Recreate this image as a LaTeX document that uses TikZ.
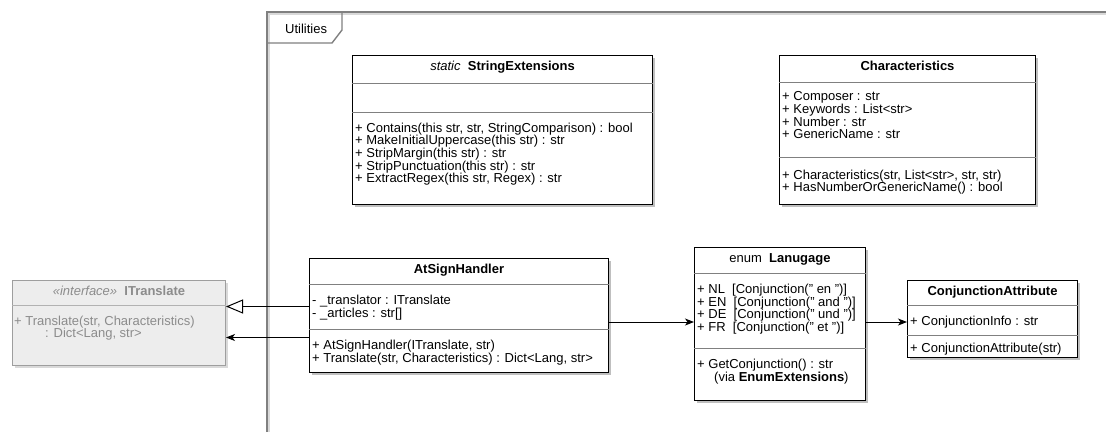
\documentclass[tikz,border=0pt]{standalone}
\usepackage{fontspec}
\setmainfont{Liberation Sans}
\usetikzlibrary{shadows,arrows.meta}
\newcommand\fs{\fontsize{13}{12.7}\selectfont}
\newcommand\qq{\symbol{34}}
\newcommand\ml[1]{\vtop{\lineskiplimit=-100pt\lineskip=0pt\baselineskip=12.7pt\halign{##\hfil\cr#1\crcr}}}
\tikzset{
  cls/.style={draw=black, line width=1pt, fill=white, inner sep=0, anchor=north west,
    drop shadow={shadow xshift=2.5pt, shadow yshift=-2.5pt, fill=black!25, opacity=1}},
  ifc/.style={draw=black!38, line width=1pt, fill=black!7, inner sep=0, anchor=north west,
    drop shadow={shadow xshift=2.5pt, shadow yshift=-2.5pt, fill=black!15, opacity=1}},
  sep/.style={draw=black!50, line width=0.9pt},
  isep/.style={draw=black!30, line width=0.9pt},
  txt/.style={inner sep=0, anchor=base west, font=\fs},
  hdr/.style={inner sep=0, anchor=base, font=\fs},
  gtxt/.style={text=black!45},
  gen/.style={draw, line width=1pt, -{Triangle[open, length=17pt, width=14pt]}},
  assoc/.style={draw, line width=1pt, -{Stealth[length=9pt, width=7pt, inset=2.5pt]}},
  frm/.style={draw=black!50, line width=1.4pt},
  frmsh/.style={draw=black!15, line width=1.4pt}
}
\begin{document}
\begin{tikzpicture}[x=1pt, y=-1pt]
\useasboundingbox (0,0) rectangle (1106,432);
% package frame
\draw[frmsh] (269,432) -- (269,14) -- (1106,14);
\draw[frm] (267,432) -- (267,12) -- (1106,12);
\draw[frm] (267,43) -- (332,43) -- (342,30) -- (342,12);
\node[txt] (util) at (285,33.5) {Utilities};

% ITranslate
\node[ifc, minimum width=213pt, minimum height=85pt] (itr) at (12,280) {};
\node[hdr, gtxt] (itr-h) at (itr.north |- 0,295) {\textit{«interface»}\ \ \textbf{ITranslate}};
\draw[isep] (itr.west |- 0,305) -- (itr.east |- 0,305);
\node[txt, gtxt] (itr-m) at (14,325) {\ml{+ Translate(str, Characteristics)\cr \hskip31pt: Dict<Lang, str>}};

% StringExtensions
\node[cls, minimum width=300pt, minimum height=149pt] (se) at (352,55) {};
\node[hdr] (se-h) at (se.north |- 0,70.7) {\textit{static}\ \ \textbf{StringExtensions}};
\draw[sep] (se.west |- 0,83) -- (se.east |- 0,83);
\draw[sep] (se.west |- 0,112) -- (se.east |- 0,112);
\node[txt] (se-m) at (355,132) {\ml{+ Contains(this str, str, StringComparison) : bool\cr
+ MakeInitialUppercase(this str) : str\cr
+ StripMargin(this str) : str\cr
+ StripPunctuation(this str) : str\cr
+ ExtractRegex(this str, Regex) : str}};

% Characteristics
\node[cls, minimum width=256pt, minimum height=149pt] (ch) at (779,55) {};
\node[hdr] (ch-h) at (ch.north |- 0,70.7) {\textbf{Characteristics}};
\draw[sep] (ch.west |- 0,82) -- (ch.east |- 0,82);
\node[txt] (ch-a) at (782,100.7) {\ml{+ Composer : str\cr
+ Keywords : List<str>\cr
+ Number : str\cr
+ GenericName : str}};
\draw[sep] (ch.west |- 0,157) -- (ch.east |- 0,157);
\node[txt] (ch-m) at (782,179) {\ml{+ Characteristics(str, List<str>, str, str)\cr
+ HasNumberOrGenericName() : bool}};

% AtSignHandler
\node[cls, minimum width=299pt, minimum height=114pt] (ash) at (309,258) {};
\node[hdr] (ash-h) at (ash.north |- 0,273.3) {\textbf{AtSignHandler}};
\draw[sep] (ash.west |- 0,284) -- (ash.east |- 0,284);
\node[txt] (ash-a) at (312,304.3) {\ml{- \_translator : ITranslate\cr
- \_articles : str[]}};
\draw[sep] (ash.west |- 0,329) -- (ash.east |- 0,329);
\node[txt] (ash-m) at (312,349.5) {\ml{+ AtSignHandler(ITranslate, str)\cr
+ Translate(str, Characteristics) : Dict<Lang, str>}};

% Lanugage
\node[cls, minimum width=171pt, minimum height=153pt] (lan) at (694,247) {};
\node[hdr] (lan-h) at (lan.north |- 0,262.7) {enum\ \ \textbf{Lanugage}};
\draw[sep] (lan.west |- 0,273) -- (lan.east |- 0,273);
\node[txt] (lan-a) at (697,293.3) {\ml{+ NL\ \ [Conjunction(\qq{} en \qq)]\cr
+ EN\ \ [Conjunction(\qq{} and \qq)]\cr
+ DE\ \ [Conjunction(\qq{} und \qq)]\cr
+ FR\ \ [Conjunction(\qq{} et \qq)]}};
\draw[sep] (lan.west |- 0,348.3) -- (lan.east |- 0,348.3);
\node[txt] (lan-m) at (697,368.3) {\ml{+ GetConjunction() : str\cr
\hskip17pt(via \textbf{EnumExtensions})}};

% ConjunctionAttribute
\node[cls, minimum width=170pt, minimum height=77pt] (ca) at (907,280) {};
\node[hdr] (ca-h) at (ca.north |- 0,295) {\textbf{ConjunctionAttribute}};
\draw[sep] (ca.west |- 0,305) -- (ca.east |- 0,305);
\node[txt] (ca-a) at (910,325.5) {+ ConjunctionInfo : str};
\draw[sep] (ca.west |- 0,335) -- (ca.east |- 0,335);
\node[txt] (ca-m) at (910,352) {+ ConjunctionAttribute(str)};

% connectors
\draw[gen] (ash.west |- 0,306.5) -- (itr.east |- 0,306.5);
\draw[assoc] (ash.west |- 0,337.5) -- (itr.east |- 0,337.5);
\draw[assoc] (ash.east |- 0,322) -- (lan.west |- 0,322);
\draw[assoc] (lan.east |- 0,322) -- (ca.west |- 0,322);
\end{tikzpicture}
\end{document}
